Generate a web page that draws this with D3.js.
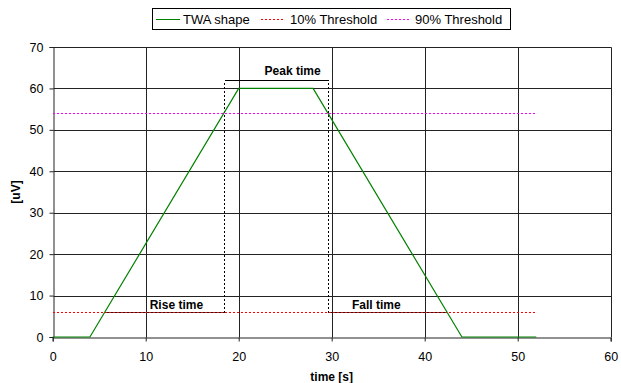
<!DOCTYPE html>
<html>
<head>
<meta charset="utf-8">
<script src="https://cdn.jsdelivr.net/npm/d3@7"></script>
<style>
  body { margin: 0; background: #fff; }
  svg { display: block; font-family: "Liberation Sans", Arial, sans-serif; }
  .tick text { font-size: 12.5px; fill: #000; }
  .lbl { font-size: 12px; font-weight: bold; fill: #000; }
</style>
</head>
<body>
<div id="chart"></div>
<script>
// Series data
const twaTime  = [0, 4, 20, 28, 44, 52];
const twaValue = [0, 0, 60, 60, 0, 0];
const thrTime  = [0, 52];
const thr10    = [6, 6];
const thr90    = [54, 54];

// Annotation points (time at threshold crossings)
const riseFrom = 5.6, riseTo = 18.4;
const fallFrom = 29.6, fallTo = 42.4;
const bracketLevel = 6, peakLevel = 62;
const annoNames = ["Rise time", "Peak time", "Fall time"];
const annoX     = [13.3, 25.8, 34.8];
const annoY     = [6.8, 63.2, 6.8];

// Axes
const xTicks = [0, 10, 20, 30, 40, 50, 60];
const yTicks = [0, 10, 20, 30, 40, 50, 60, 70];

const legendNames  = ["TWA shape", "10% Threshold", "90% Threshold"];
const legendColors = ["#008000", "#ff0000", "#ff00ff"];
const legendDash   = [null, "2,2", "2,2"];

const W = 621, H = 383;
const margin = {top: 47, right: 10.3, bottom: 46, left: 52.7};

const svg = d3.select("#chart").append("svg")
  .attr("width", W).attr("height", H);

const x = d3.scaleLinear([0, 60], [margin.left, W - margin.right]);
const y = d3.scaleLinear([0, 70], [H - margin.bottom, margin.top]);
const px = v => Math.round(v) + 0.5;   // crisp 1px lines

// Grid
svg.append("g").selectAll("line")
  .data(yTicks.slice(1))
  .join("line")
    .attr("x1", px(x(0))).attr("x2", px(x(60)))
    .attr("y1", d => px(y(d))).attr("y2", d => px(y(d)))
    .attr("stroke", "#222");
svg.append("g").selectAll("line")
  .data(xTicks.slice(1))
  .join("line")
    .attr("x1", d => px(x(d))).attr("x2", d => px(x(d)))
    .attr("y1", px(y(0))).attr("y2", px(y(70)))
    .attr("stroke", "#222");

// Axes
const xAxis = svg.append("g")
  .attr("transform", `translate(0,${px(y(0))})`)
  .call(d3.axisBottom(x).tickValues(xTicks).tickSize(4).tickPadding(11));
const yAxis = svg.append("g")
  .attr("transform", `translate(${px(x(0))},0)`)
  .call(d3.axisLeft(y).tickValues(yTicks).tickSize(4).tickPadding(6));
[xAxis, yAxis].forEach(a => {
  a.select(".domain").attr("stroke", "#222");
  a.selectAll(".tick line").attr("stroke", "#222");
  a.attr("font-family", null).attr("font-size", null);
});

// Thresholds
const hline = (x1, x2, v) => ({x1: x(x1), x2: x(x2), y: px(y(v))});
const t90 = hline(thrTime[0], thrTime[1], thr90[0]);
svg.append("line")
  .attr("x1", t90.x1).attr("x2", t90.x2).attr("y1", t90.y).attr("y2", t90.y)
  .attr("stroke", legendColors[2]).attr("stroke-dasharray", "2,2")
  .attr("shape-rendering", "crispEdges");

// Bracket lines
const g = svg.append("g").attr("stroke", "#000").attr("fill", "none")
  .attr("shape-rendering", "crispEdges");
[[riseFrom, riseTo], [fallFrom, fallTo]].forEach(([a, b]) => {
  g.append("line").attr("x1", x(a)).attr("x2", x(b))
    .attr("y1", px(y(bracketLevel))).attr("y2", px(y(bracketLevel)));
});
g.append("line").attr("x1", px(x(riseTo))).attr("x2", px(x(fallFrom)))
  .attr("y1", px(y(peakLevel))).attr("y2", px(y(peakLevel)));
[riseTo, fallFrom].forEach(t => {
  g.append("line").attr("x1", px(x(t))).attr("x2", px(x(t)))
    .attr("y1", px(y(bracketLevel))).attr("y2", px(y(peakLevel)))
    .attr("stroke-dasharray", "2,2");
});

const t10 = hline(thrTime[0], thrTime[1], thr10[0]);
svg.append("line")
  .attr("x1", t10.x1).attr("x2", t10.x2).attr("y1", t10.y).attr("y2", t10.y)
  .attr("stroke", legendColors[1]).attr("stroke-dasharray", "2,2")
  .attr("shape-rendering", "crispEdges");

// TWA shape
const line = d3.line().x(d => x(d[0])).y(d => y(d[1]));
svg.append("path")
  .attr("d", line(d3.zip(twaTime, twaValue)))
  .attr("fill", "none").attr("stroke", legendColors[0]).attr("stroke-width", 1.2);

// Annotation labels
svg.append("g").selectAll("text")
  .data(annoNames)
  .join("text")
    .attr("class", "lbl")
    .attr("x", (d, i) => x(annoX[i]))
    .attr("y", (d, i) => y(annoY[i]))
    .attr("text-anchor", "middle")
    .text(d => d);

// Axis titles
svg.append("text").attr("class", "lbl")
  .attr("x", (x(0) + x(60)) / 2).attr("y", 381)
  .attr("text-anchor", "middle").text("time [s]");
svg.append("text").attr("class", "lbl")
  .attr("transform", `translate(20,${(y(0) + y(70)) / 2}) rotate(-90)`)
  .attr("text-anchor", "middle").text("[uV]");

// Legend
const leg = svg.append("g");
leg.append("rect")
  .attr("x", 152.5).attr("y", 8.5).attr("width", 358).attr("height", 21)
  .attr("fill", "#fff").attr("stroke", "#000");
const legLineX = [156, 261, 387];
const legTextX = [183, 290, 415];
legendNames.forEach((name, i) => {
  leg.append("line")
    .attr("x1", legLineX[i]).attr("x2", legLineX[i] + 24)
    .attr("y1", 19.5).attr("y2", 19.5)
    .attr("stroke", legendColors[i])
    .attr("stroke-dasharray", legendDash[i]);
  leg.append("text")
    .attr("x", legTextX[i]).attr("y", 24)
    .attr("font-size", "13px")
    .text(name);
});
</script>
</body>
</html>
